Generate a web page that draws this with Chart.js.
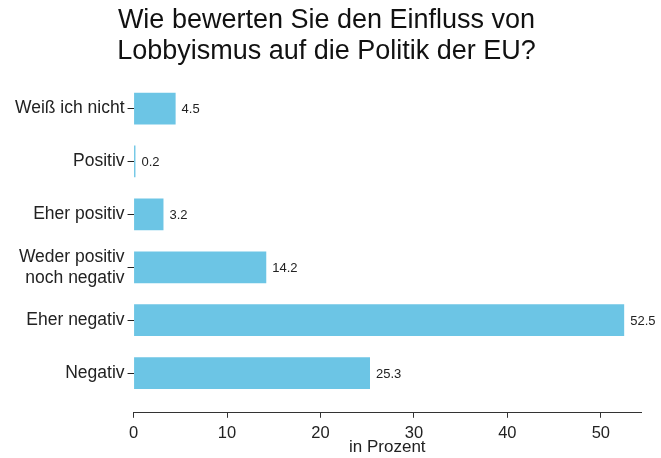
<!DOCTYPE html>
<html>
<head>
<meta charset="utf-8">
<script src="https://cdn.jsdelivr.net/npm/chart.js@4/dist/chart.umd.min.js"></script>
<style>
  html, body { margin: 0; padding: 0; background: #fff; }
  #wrap { width: 661px; height: 458px; }
</style>
</head>
<body>
<div id="wrap"><canvas id="lobby_chart"></canvas></div>
<script>
// DATA
const categories = ['Weiß ich nicht', 'Positiv', 'Eher positiv', ['Weder positiv', 'noch negativ'], 'Eher negativ', 'Negativ'];
const percentValues = [4.5, 0.2, 3.2, 14.2, 52.5, 25.3];
const xTicks = [0, 10, 20, 30, 40, 50];

const FONT = '"Liberation Sans", Arial, sans-serif';
const ctx = document.getElementById('lobby_chart').getContext('2d');

// value labels right of each bar
const valueLabels = {
  id: 'valueLabels',
  afterDatasetsDraw(chart) {
    const c = chart.ctx;
    const meta = chart.getDatasetMeta(0);
    c.save();
    c.font = '13px ' + FONT;
    c.fillStyle = '#222';
    c.textBaseline = 'middle';
    meta.data.forEach((bar, i) => {
      c.fillText(percentValues[i].toFixed(1), bar.x + 6, bar.y + 1);
    });
    c.restore();
  }
};

const myChart = new Chart(ctx, {
  type: 'bar',
  data: {
    datasets: [{
      data: percentValues.map((v, i) => ({ x: v, y: i })),
      backgroundColor: '#6cc5e5',
      borderWidth: 0,
      barPercentage: 0.6,
      categoryPercentage: 1
    }]
  },
  options: {
    indexAxis: 'y',
    responsive: true,
    maintainAspectRatio: false,
    animation: false,
    layout: { padding: { left: 12, right: 20, top: 4, bottom: 0 } },
    plugins: {
      legend: { display: false },
      tooltip: { enabled: false },
      title: {
        display: true,
        text: ['Wie bewerten Sie den Einfluss von', 'Lobbyismus auf die Politik der EU?'],
        color: '#111',
        font: { family: FONT, size: 27, weight: 'normal', lineHeight: 1.15 },
        padding: { top: 1, bottom: 15 }
      }
    },
    scales: {
      x: {
        type: 'linear',
        min: 0,
        max: 54.3,
        afterBuildTicks: (scale) => { scale.ticks = xTicks.map(v => ({ value: v })); },
        grid: { drawOnChartArea: false, tickLength: 5, color: '#333' },
        border: { display: true, color: '#333', width: 1 },
        ticks: {
          color: '#222',
          padding: 6,
          font: { family: FONT, size: 16.5 }
        },
        title: {
          display: true,
          text: 'in Prozent',
          color: '#222',
          padding: { top: -12, bottom: 0 },
          font: { family: FONT, size: 17 }
        }
      },
      y: {
        type: 'linear',
        reverse: true,
        offset: false,
        min: -0.5,
        max: 5.75,
        afterBuildTicks: (scale) => { scale.ticks = categories.map((c, i) => ({ value: i })); },
        grid: { drawOnChartArea: false, offset: false, tickLength: 6, color: '#222' },
        border: { display: false },
        ticks: {
          color: '#222',
          padding: 3,
          font: { family: FONT, size: 17.5 },
          callback: (v) => categories[v]
        }
      }
    }
  },
  plugins: [valueLabels]
});
</script>
</body>
</html>
